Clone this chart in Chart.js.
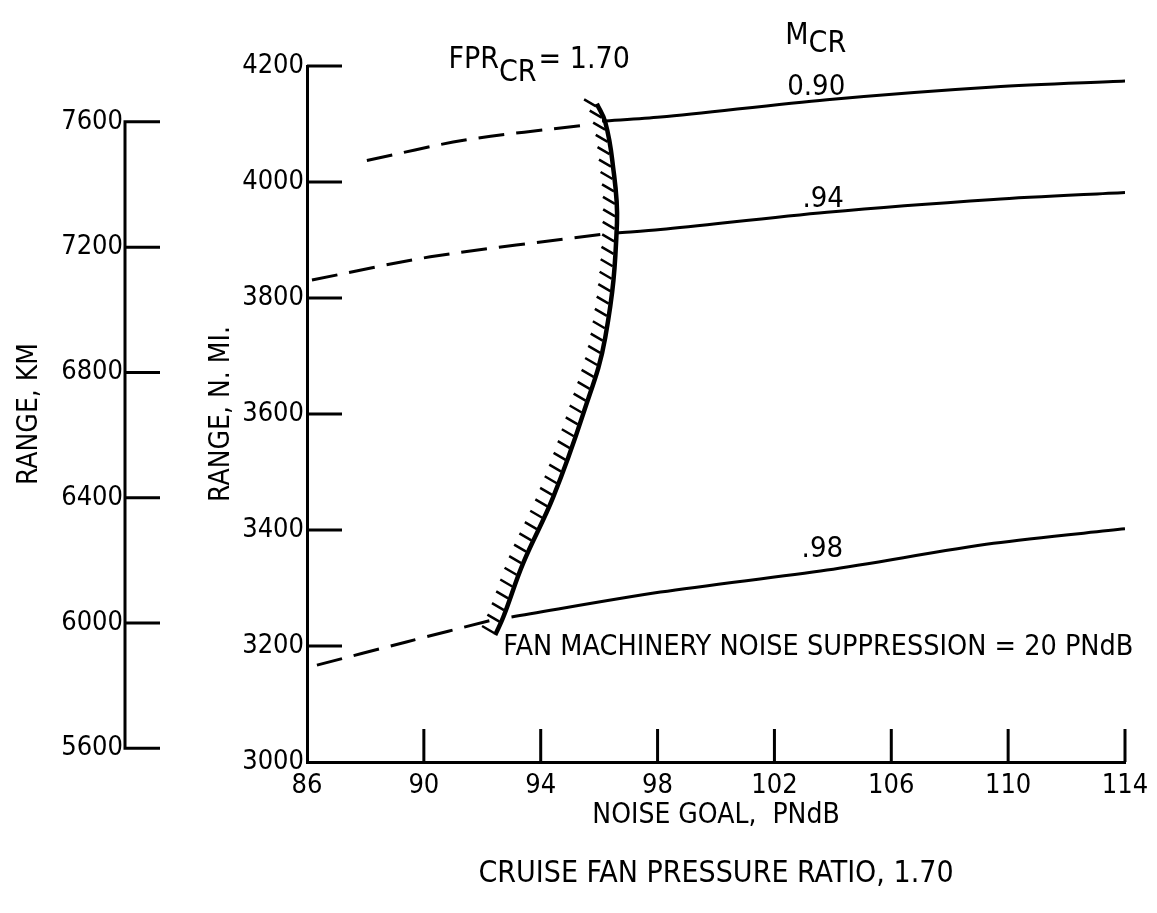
<!DOCTYPE html>
<html>
<head>
<meta charset="utf-8">
<title>Range vs noise goal</title>
<script src="https://cdn.jsdelivr.net/npm/chart.js@4.4.1/dist/chart.umd.min.js"></script>
<style>
  html, body { margin: 0; padding: 0; background: #fff; }
</style>
</head>
<body>
<canvas id="rangeChart" width="1157" height="913"></canvas>
<script>
// axis ticks
var noiseTicks = [86, 90, 94, 98, 102, 106, 110, 114];
var rangeTicks = [3000, 3200, 3400, 3600, 3800, 4000, 4200];
var kmTicks = [5600, 6000, 6400, 6800, 7200, 7600];
var KM_PER_NMI = 1.852;

// solid part of each cruise Mach curve (right of the fan pressure ratio limit)
var mach090Noise = [96.1, 98.1, 103.8, 109.5, 114];
var mach090Range = [4105, 4112, 4142, 4164, 4174];
var mach094Noise = [96.6, 98.1, 103.8, 109.5, 114];
var mach094Range = [3912, 3918, 3948, 3970, 3982];
var mach098Noise = [93.0, 98.1, 103.8, 109.5, 114];
var mach098Range = [3250, 3293, 3331, 3377, 3402];

// dashed extensions left of the limit
var dash090Noise = [88.05, 91.36, 95.5];
var dash090Range = [4037, 4072, 4098];
var dash094Noise = [86.17, 90.22, 96.1];
var dash094Range = [3831, 3871, 3910];
var dash098Noise = [86.34, 89.4, 92.27];
var dash098Range = [3167, 3207, 3244];

// FPR_CR = 1.70 limit curve
var limitNoise = [95.92, 96.21, 96.45, 96.61, 96.21, 95.46, 94.43, 93.40, 92.72, 92.44];
var limitRange = [4135, 4103, 4037, 3929, 3732, 3601, 3457, 3343, 3250, 3219];

var machLabels = ['0.90', '.94', '.98'];

var FONT = "'Liberation Sans Narrow', 'DejaVu Sans Condensed', 'Arial Narrow', sans-serif";
Chart.defaults.font.family = FONT;
Chart.defaults.color = '#000';

function pairs(xs, ys) {
  return xs.map(function (x, i) { return { x: x, y: ys[i] }; });
}

function fixedTicks(list) {
  return function (scale) {
    scale.ticks = list.map(function (v) { return { value: v }; });
  };
}

function plainLabel(v) { return String(v); }

var solid = { borderColor: '#000', borderWidth: 3, pointRadius: 0, tension: 0.3, fill: false };
var dashed = Object.assign({}, solid, { borderDash: [26, 12] });

// inward tick marks, km axis line, hatching on the limit curve, and the text notes
var rangeDecor = {
  id: 'rangeDecor',
  afterDatasetsDraw: function (chart, args, opts) {
    var ctx = chart.ctx;
    var xs = chart.scales.x, ys = chart.scales.y, ks = chart.scales.yKm;
    ctx.save();
    ctx.strokeStyle = '#000';
    ctx.lineWidth = 3;
    ctx.beginPath();
    noiseTicks.slice(1).forEach(function (v) {
      var px = xs.getPixelForValue(v);
      ctx.moveTo(px, xs.top);
      ctx.lineTo(px, xs.top - 33);
    });
    rangeTicks.slice(1).forEach(function (v) {
      var py = ys.getPixelForValue(v);
      ctx.moveTo(ys.right, py);
      ctx.lineTo(ys.right + 35, py);
    });
    var kTop = ks.getPixelForValue(kmTicks[kmTicks.length - 1]);
    var kBot = ks.getPixelForValue(kmTicks[0]);
    ctx.moveTo(ks.right, kTop - 1.5);
    ctx.lineTo(ks.right, kBot + 1.5);
    kmTicks.forEach(function (v) {
      var py = ks.getPixelForValue(v);
      ctx.moveTo(ks.right, py);
      ctx.lineTo(ks.right + 35, py);
    });
    ctx.stroke();

    // hatch marks along the left side of the limit curve
    var pts = chart.getDatasetMeta(opts.limitIndex).data;
    var samples = [];
    for (var i = 0; i < pts.length - 1; i++) {
      var p0 = pts[i], p1 = pts[i + 1];
      var c1x = p0.cp2x !== undefined ? p0.cp2x : p0.x, c1y = p0.cp2y !== undefined ? p0.cp2y : p0.y;
      var c2x = p1.cp1x !== undefined ? p1.cp1x : p1.x, c2y = p1.cp1y !== undefined ? p1.cp1y : p1.y;
      for (var s = 0; s < 40; s++) {
        var t = s / 40, u = 1 - t;
        samples.push({
          x: u * u * u * p0.x + 3 * u * u * t * c1x + 3 * u * t * t * c2x + t * t * t * p1.x,
          y: u * u * u * p0.y + 3 * u * u * t * c1y + 3 * u * t * t * c2y + t * t * t * p1.y
        });
      }
    }
    samples.push({ x: pts[pts.length - 1].x, y: pts[pts.length - 1].y });
    ctx.lineWidth = 2.5;
    ctx.beginPath();
    var dist = 0, next = 3;
    for (var k = 1; k < samples.length; k++) {
      var a = samples[k - 1], b = samples[k];
      var seg = Math.hypot(b.x - a.x, b.y - a.y);
      while (dist + seg >= next) {
        var f = (next - dist) / seg;
        var hx = a.x + (b.x - a.x) * f, hy = a.y + (b.y - a.y) * f;
        ctx.moveTo(hx - 2, hy);
        ctx.lineTo(hx - 14, hy - 7);
        next += 12.5;
      }
      dist += seg;
    }
    ctx.stroke();

    // text notes
    ctx.fillStyle = '#000';
    ctx.textBaseline = 'middle';
    ctx.textAlign = 'left';
    var big = '30px ' + FONT;
    function run(parts, x, y) {
      ctx.font = big;
      parts.forEach(function (p) {
        ctx.fillText(p[0], x, y + p[1]);
        x += ctx.measureText(p[0]).width + (p[2] || 0);
      });
    }
    function at(nx, ry) { return [xs.getPixelForValue(nx), ys.getPixelForValue(ry)]; }

    var q = at(90.84, 4210);
    run([['FPR', 0, 0], ['CR', 13, 2], ['= 1.70', 0, 0]], q[0], q[1]);
    q = at(102.37, 4252);
    run([['M', 0, 0], ['CR', 8, 0]], q[0], q[1]);
    ctx.font = '29px ' + FONT;
    ctx.textAlign = 'center';
    q = at(103.43, 4163);
    ctx.fillText(machLabels[0], q[0], q[1]);
    q = at(103.67, 3970);
    ctx.fillText(machLabels[1], q[0], q[1]);
    q = at(103.64, 3367);
    ctx.fillText(machLabels[2], q[0], q[1]);
    ctx.textAlign = 'left';
    ctx.font = '28.5px ' + FONT;
    q = at(92.72, 3198);
    ctx.fillText('FAN MACHINERY NOISE SUPPRESSION = 20 PNdB', q[0], q[1]);
    ctx.restore();
  }
};

var datasets = [
  Object.assign({ label: 'M 0.90', data: pairs(mach090Noise, mach090Range) }, solid),
  Object.assign({ label: 'M 0.94', data: pairs(mach094Noise, mach094Range) }, solid),
  Object.assign({ label: 'M 0.98', data: pairs(mach098Noise, mach098Range) }, solid),
  Object.assign({ label: 'M 0.90 ext', data: pairs(dash090Noise, dash090Range) }, dashed),
  Object.assign({ label: 'M 0.94 ext', data: pairs(dash094Noise, dash094Range) }, dashed),
  Object.assign({ label: 'M 0.98 ext', data: pairs(dash098Noise, dash098Range) }, dashed),
  Object.assign({ label: 'FPR limit', data: pairs(limitNoise, limitRange) }, solid, { borderWidth: 4.5, tension: 0.4 })
];

var tickFont = { size: 27 };
var noGrid = { display: false, drawTicks: false };

var ctx = document.getElementById('rangeChart').getContext('2d');
var rangeChart = new Chart(ctx, {
  type: 'line',
  data: { datasets: datasets },
  plugins: [rangeDecor],
  options: {
    responsive: false,
    animation: false,
    layout: { padding: { top: 66, right: 32, bottom: 0, left: 0 } },
    plugins: {
      legend: { display: false },
      tooltip: { enabled: false },
      title: {
        display: true,
        position: 'bottom',
        fullSize: false,
        text: 'CRUISE FAN PRESSURE RATIO, 1.70',
        color: '#000',
        font: { size: 30, weight: 'normal' },
        padding: { top: 23, bottom: 21 }
      },
      rangeDecor: { limitIndex: 6 }
    },
    scales: {
      x: {
        type: 'linear',
        position: 'bottom',
        min: 86,
        max: 114,
        afterBuildTicks: fixedTicks(noiseTicks),
        grid: noGrid,
        border: { display: true, color: '#000', width: 3 },
        ticks: { color: '#000', font: tickFont, padding: 8, maxRotation: 0, autoSkip: false, callback: plainLabel },
        title: { display: true, text: 'NOISE GOAL,  PNdB', color: '#000', font: { size: 28 }, padding: { top: 0, bottom: 0 } },
        afterFit: function (s) { s.height = 71; }
      },
      y: {
        type: 'linear',
        position: 'left',
        weight: 0,
        min: 3000,
        max: 4200,
        afterBuildTicks: fixedTicks(rangeTicks),
        grid: noGrid,
        border: { display: true, color: '#000', width: 3 },
        ticks: { color: '#000', font: tickFont, padding: 3, autoSkip: false, callback: plainLabel },
        title: { display: true, text: 'RANGE, N. MI.', color: '#000', font: { size: 28 }, padding: { top: 80, bottom: 0 } },
        afterFit: function (s) { s.width = 182; }
      },
      yKm: {
        type: 'linear',
        position: 'left',
        weight: 1,
        min: 3000 * KM_PER_NMI,
        max: 4200 * KM_PER_NMI,
        afterBuildTicks: fixedTicks(kmTicks),
        grid: noGrid,
        border: { display: false },
        ticks: { color: '#000', font: tickFont, padding: 2, autoSkip: false, callback: plainLabel },
        title: { display: true, text: 'RANGE, KM', color: '#000', font: { size: 28 }, padding: { top: 13, bottom: 0 } },
        afterFit: function (s) { s.width = 125; }
      }
    }
  }
});
</script>
</body>
</html>
